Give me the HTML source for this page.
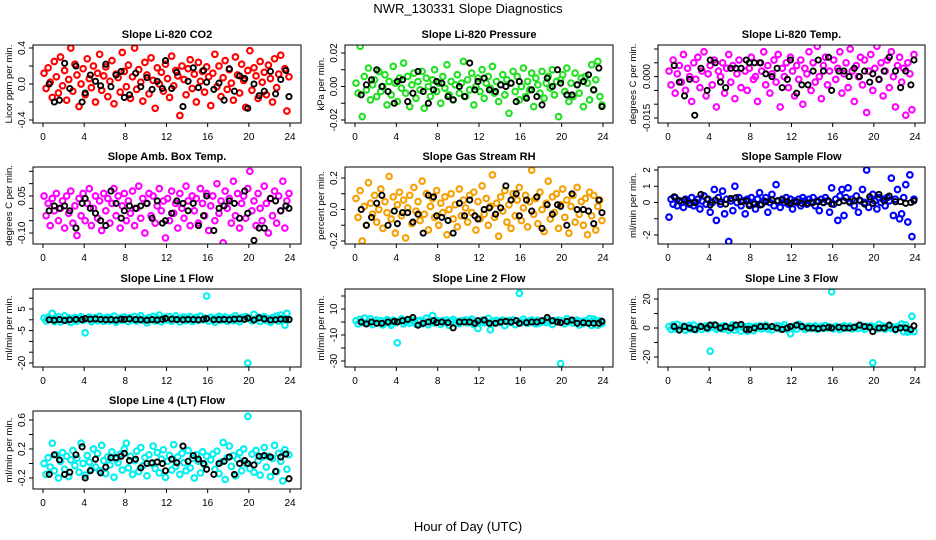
<!DOCTYPE html>
<html><head><meta charset="utf-8"><title>NWR_130331 Slope Diagnostics</title>
<style>
html,body{margin:0;padding:0;background:#fff;}
svg{display:block;font-family:"Liberation Sans",sans-serif;}
</style></head>
<body>
<svg id="chart" width="936" height="540" viewBox="0 0 936 540" xmlns="http://www.w3.org/2000/svg">
<text x="468" y="13" text-anchor="middle" font-size="13">NWR_130331  Slope Diagnostics</text>
<text x="468" y="531" text-anchor="middle" font-size="13">Hour of Day (UTC)</text>
</svg>
<script>
const hours = [0.1,0.3,0.5,0.7,0.9,1.1,1.3,1.5,1.7,1.9,2.1,2.3,2.5,2.7,2.9,3.1,3.3,3.5,3.7,3.9,4.1,4.3,4.5,4.7,4.9,5.1,5.3,5.5,5.7,5.9,6.1,6.3,6.5,6.7,6.9,7.1,7.3,7.5,7.7,7.9,8.1,8.3,8.5,8.7,8.9,9.1,9.3,9.5,9.7,9.9,10.1,10.3,10.5,10.7,10.9,11.1,11.3,11.5,11.7,11.9,12.1,12.3,12.5,12.7,12.9,13.1,13.3,13.5,13.7,13.9,14.1,14.3,14.5,14.7,14.9,15.1,15.3,15.5,15.7,15.9,16.1,16.3,16.5,16.7,16.9,17.1,17.3,17.5,17.7,17.9,18.1,18.3,18.5,18.7,18.9,19.1,19.3,19.5,19.7,19.9,20.1,20.3,20.5,20.7,20.9,21.1,21.3,21.5,21.7,21.9,22.1,22.3,22.5,22.7,22.9,23.1,23.3,23.5,23.7,23.9];
const blackHours = [0.6,1.1,1.6,2.1,2.6,3.2,3.8,4.1,4.6,5.1,5.6,6.1,6.6,7.1,7.6,7.9,8.4,9.0,9.5,10.1,10.6,11.1,11.6,11.9,12.5,13.0,13.6,14.1,14.6,15.1,15.6,15.9,16.6,17.1,17.6,18.1,18.6,19.1,19.6,19.9,20.5,21.0,21.5,22.1,22.6,23.1,23.6,23.9];
const xTicks = [0,4,8,12,16,20,24];

const co2 = [0.12,-0.05,0.18,0.02,-0.15,0.25,0.08,-0.1,0.3,-0.02,0.15,-0.18,0.05,0.4,-0.08,0.22,0.1,-0.25,0.0,0.17,-0.12,0.28,0.06,-0.04,0.2,-0.2,0.12,0.33,-0.07,0.09,0.19,-0.14,0.03,0.26,-0.22,0.11,0.07,-0.09,0.35,0.14,-0.03,0.21,-0.16,0.08,0.4,-0.06,0.16,0.02,-0.19,0.24,0.1,-0.11,0.29,0.04,-0.27,0.18,0.0,0.13,-0.08,0.22,0.06,-0.15,0.31,-0.02,0.15,0.09,-0.35,0.2,0.05,-0.12,0.17,0.27,-0.05,0.11,-0.2,0.24,0.03,0.14,-0.09,0.19,0.08,-0.24,0.12,0.33,-0.03,0.2,-0.14,0.07,0.26,-0.06,0.16,0.01,-0.18,0.3,0.1,-0.1,0.22,0.04,-0.26,0.15,0.37,-0.07,0.18,0.09,-0.16,0.25,0.02,0.13,-0.12,0.21,0.06,-0.2,0.28,-0.04,0.11,0.32,-0.47,0.17,-0.3,0.08];
const co2Black = [0.0,-0.2,-0.18,0.23,-0.05,0.2,-0.2,-0.1,0.1,0.03,-0.02,0.22,-0.03,0.1,0.14,-0.15,-0.12,0.12,-0.03,0.07,-0.06,0.03,-0.05,0.26,-0.05,0.13,-0.25,0.03,0.18,-0.04,0.15,0.02,-0.06,0.01,-0.18,0.17,-0.08,0.09,0.06,-0.27,0.0,-0.13,-0.08,0.14,-0.11,0.05,0.15,-0.14];
const pres = [0.002,-0.004,0.024,-0.018,0.006,-0.002,0.011,-0.008,0.001,0.004,-0.006,0.009,-0.003,0.0,0.007,-0.011,0.003,-0.005,0.012,0.002,-0.009,0.005,-0.001,0.014,-0.004,0.006,-0.012,0.001,0.008,-0.007,0.003,-0.002,0.009,-0.013,0.005,0.0,-0.006,0.004,0.01,-0.003,0.002,-0.01,0.006,-0.001,0.013,-0.005,0.003,-0.008,0.001,0.007,-0.004,0.002,0.015,-0.006,0.004,-0.002,0.008,-0.011,0.0,0.005,-0.003,0.01,-0.007,0.002,0.006,-0.001,0.012,-0.004,0.003,-0.009,0.001,0.007,-0.005,0.004,-0.016,0.002,0.009,-0.003,0.006,-0.008,0.0,0.011,-0.006,0.003,-0.002,0.008,-0.012,0.005,0.001,-0.004,0.009,-0.007,0.002,0.006,-0.001,0.01,-0.005,0.003,-0.018,0.004,0.007,-0.003,0.011,-0.009,0.002,-0.006,0.008,0.001,-0.004,0.005,-0.012,0.006,0.002,-0.008,0.013,-0.002,0.004,0.015,-0.006,-0.011];
const presBlack = [-0.005,0.001,0.004,0.01,0.0,-0.003,-0.01,0.003,0.004,-0.009,-0.004,0.009,-0.003,-0.01,-0.002,0.003,0.002,-0.006,-0.008,0.0,-0.006,0.014,-0.002,0.003,0.005,-0.002,-0.003,0.001,0.0,0.002,-0.009,0.003,-0.007,-0.002,-0.006,-0.011,0.005,0.0,0.01,0.002,-0.005,-0.005,0.001,0.003,0.007,-0.002,0.011,-0.012];
const temp = [0.002,-0.003,0.006,-0.006,0.001,0.004,-0.002,0.008,-0.005,0.003,0.0,-0.009,0.005,-0.001,0.007,-0.004,0.002,0.009,-0.007,0.001,0.004,-0.003,0.006,-0.011,0.002,0.0,0.005,-0.006,0.003,0.008,-0.002,0.004,-0.008,0.001,0.006,-0.004,0.013,0.002,-0.005,0.003,0.007,-0.001,0.0,-0.009,0.005,0.002,0.009,-0.003,0.004,-0.006,0.001,0.006,-0.002,0.008,-0.011,0.003,0.0,0.005,-0.004,0.007,0.002,-0.007,0.004,-0.001,0.006,-0.01,0.003,0.001,0.009,-0.005,0.005,-0.002,0.011,0.0,-0.008,0.004,0.007,-0.003,0.002,-0.018,0.006,-0.001,0.003,0.009,-0.006,0.001,0.005,-0.004,0.01,0.002,-0.009,0.004,0.0,0.007,-0.003,0.006,-0.013,0.002,0.008,-0.005,0.003,0.011,-0.001,0.005,-0.007,0.002,0.006,-0.004,0.009,0.0,-0.011,0.004,0.007,-0.002,0.003,-0.014,0.005,0.001,-0.012,0.008];
const tempBlack = [0.004,-0.002,-0.007,-0.001,-0.014,0.003,-0.005,0.006,0.005,-0.002,-0.004,0.003,0.003,0.003,0.006,0.005,0.005,0.005,0.001,0.0,0.003,-0.004,-0.001,0.006,-0.006,-0.003,-0.003,0.002,0.006,0.002,0.007,-0.005,0.002,0.002,0.0,0.003,0.0,0.002,-0.002,0.001,-0.001,0.002,0.007,0.002,-0.004,0.002,-0.003,0.006];
const amb = [0.05,-0.03,0.02,-0.07,0.04,-0.01,0.06,-0.05,0.0,0.03,-0.08,0.05,-0.02,0.07,-0.06,0.01,-0.11,0.04,-0.03,0.06,-0.05,0.02,0.08,-0.07,0.0,0.05,-0.04,0.03,-0.09,0.06,-0.01,0.04,-0.06,0.02,0.08,-0.03,0.05,-0.08,0.01,0.06,-0.05,0.03,-0.02,0.07,-0.07,0.0,0.09,-0.04,0.04,-0.1,0.02,0.06,-0.03,0.05,-0.06,0.01,0.08,-0.01,0.03,-0.12,0.04,-0.05,0.07,-0.02,0.02,-0.08,0.06,0.0,-0.04,0.09,0.03,-0.07,0.05,-0.01,0.04,-0.06,0.08,0.02,-0.03,0.06,-0.09,0.01,0.05,-0.05,0.1,-0.02,0.03,-0.14,0.07,0.0,0.04,-0.06,0.11,-0.03,0.06,-0.08,0.02,0.05,-0.04,0.08,0.15,-0.01,0.03,-0.07,0.06,0.0,-0.05,0.09,0.02,-0.1,0.04,-0.03,0.07,-0.06,0.05,-0.01,0.11,-0.08,0.03,0.06];
const ambBlack = [-0.01,0.01,0.0,0.01,-0.01,-0.08,0.02,0.04,0.0,-0.02,-0.05,-0.07,0.07,0.02,-0.04,-0.01,0.01,0.0,0.01,0.02,-0.04,0.03,-0.06,-0.05,-0.02,0.03,0.02,-0.01,0.02,-0.07,-0.03,0.05,-0.09,0.0,0.01,0.03,0.02,-0.04,0.07,-0.02,-0.13,-0.08,-0.08,0.04,0.03,-0.01,0.01,0.0];
const rh = [0.07,-0.05,0.12,-0.2,0.02,-0.1,0.17,0.04,-0.03,0.09,-0.08,0.0,0.13,-0.12,0.05,-0.02,0.21,-0.06,0.08,-0.15,0.03,0.11,-0.04,0.06,-0.18,0.01,0.09,-0.09,0.14,-0.01,0.05,-0.07,0.18,-0.03,0.1,-0.13,0.02,0.07,-0.05,0.12,-0.1,0.04,-0.02,0.08,-0.16,0.0,0.1,-0.06,0.03,-0.11,0.13,-0.04,0.06,0.01,-0.08,0.09,-0.02,0.11,-0.13,0.05,-0.06,0.15,-0.03,0.07,-0.1,0.02,0.22,-0.05,0.04,-0.17,0.08,-0.01,0.12,-0.08,0.03,-0.12,0.1,-0.04,0.06,0.14,-0.07,0.01,0.09,-0.11,0.05,0.25,-0.03,0.07,-0.09,0.11,0.0,-0.14,0.04,0.18,-0.06,0.08,-0.02,0.1,-0.12,0.03,0.13,-0.05,0.06,-0.15,0.02,0.09,-0.08,0.14,-0.03,0.05,-0.1,0.07,-0.16,0.11,-0.04,0.09,-0.13,0.02,0.06,-0.07];
const rhBlack = [0.0,-0.1,-0.05,0.04,0.09,-0.1,-0.01,-0.09,-0.02,-0.02,-0.08,-0.03,-0.15,0.09,0.08,-0.04,-0.05,-0.07,-0.15,0.04,-0.04,0.06,-0.04,-0.06,0.0,0.01,-0.03,0.01,0.15,0.06,0.1,-0.04,0.06,-0.01,0.08,-0.12,0.03,-0.03,0.03,0.02,-0.1,0.1,0.0,0.0,-0.01,-0.09,0.06,-0.02];
const sflow = [-0.9,0.2,-0.1,0.3,-0.2,0.1,0.0,-0.3,0.2,0.1,-0.1,0.3,-0.2,0.0,0.2,-0.4,0.1,0.4,-0.1,0.2,-0.6,0.0,0.8,-1.1,0.3,-0.1,0.7,-0.7,0.2,-2.4,0.1,-0.5,1.0,0.0,0.3,-0.2,0.1,-0.7,0.2,-0.1,0.3,0.0,-0.4,0.2,0.6,-0.1,0.1,0.3,-0.6,0.0,0.5,-0.2,1.1,0.1,-0.3,0.2,0.0,0.3,-0.1,0.2,-0.4,0.1,0.0,0.2,-0.2,0.3,0.1,-0.1,0.2,0.0,0.3,-0.2,0.1,-0.5,0.2,0.0,0.3,0.1,-0.6,0.9,-0.1,0.2,-1.1,0.4,0.8,-0.8,0.3,0.9,0.0,0.2,-0.2,0.4,-0.6,0.1,0.8,0.0,2.0,-0.3,0.2,0.5,0.1,-0.4,0.3,0.0,0.2,-0.2,0.3,0.1,1.5,-0.8,0.2,0.8,-1.0,-0.7,0.3,1.1,-1.2,1.7,-2.1,0.2];
const sflowBlack = [0.35,0.1,0.15,-0.05,0.0,0.5,0.2,-0.15,0.15,0.05,-0.1,0.25,0.3,0.05,0.1,-0.2,-0.1,-0.15,0.05,0.15,0.1,0.15,0.05,-0.05,0.05,-0.05,-0.05,0.0,0.05,0.0,0.1,-0.1,0.0,0.1,0.05,0.1,0.15,-0.1,0.35,-0.05,0.5,0.1,0.4,0.05,0.05,-0.05,0.0,0.1];
const line1 = [0.8,-0.5,1.2,0.3,3.0,-0.8,0.5,1.5,-1.0,0.2,1.8,-0.3,0.9,-1.2,0.4,1.1,-0.6,0.7,1.4,-0.2,-6.0,0.6,1.3,-0.9,0.1,1.0,-0.4,1.6,0.3,-0.7,0.9,1.2,-0.5,0.4,1.7,-1.1,0.2,0.8,-0.3,1.3,0.5,-0.8,1.1,0.0,1.5,-0.6,0.7,1.9,-0.2,0.4,-1.4,1.0,0.3,1.6,-0.5,0.8,2.2,-0.9,0.6,1.2,-0.1,1.4,-0.7,0.5,1.8,0.2,-1.0,0.9,1.3,-0.4,0.6,1.5,-0.8,0.3,1.1,-0.3,1.7,0.0,0.8,11.0,-0.6,1.2,0.4,-1.1,0.9,1.6,-0.2,0.5,1.3,-0.7,0.2,1.0,-0.4,1.8,0.6,-0.9,1.1,0.3,1.5,-20.0,0.7,-0.5,2.5,0.1,1.2,-0.8,0.9,1.4,-0.3,0.5,-1.2,1.0,0.4,1.7,-0.6,2.2,0.8,-2.5,3.0,0.2];
const line1Black = [0.0,-0.2,0.1,-0.3,0.0,0.2,0.1,0.5,0.3,0.4,0.2,0.0,0.1,-0.1,0.3,0.2,0.4,0.1,0.0,-0.2,0.1,-0.1,0.2,0.6,0.3,0.1,0.0,0.2,0.1,0.0,0.3,0.5,0.0,0.1,0.2,0.0,0.3,0.4,0.2,0.8,-0.1,0.9,0.4,-0.1,0.0,0.3,0.2,0.1];
const line2 = [1.0,-1.5,2.0,-0.5,3.0,-1.0,0.5,2.5,-2.0,0.2,1.5,-0.8,1.0,-2.2,0.4,1.8,-1.0,-2.5,1.4,-0.5,-16.0,0.6,2.3,-1.5,0.1,1.0,-0.8,1.6,0.3,-1.7,0.9,1.2,-1.5,0.4,3.0,-2.1,0.2,5.0,-0.8,1.3,0.5,-1.8,1.1,0.0,1.5,-2.6,0.7,1.9,-0.7,0.4,-1.4,1.0,0.3,1.6,-0.5,0.8,2.2,-1.9,0.6,-5.0,-0.1,1.4,-0.7,0.5,2.8,-6.0,-1.0,0.9,1.3,-0.4,0.6,1.5,-2.8,0.3,1.1,-0.3,1.7,-2.0,0.8,22.0,-0.6,2.2,0.4,-1.1,0.9,1.6,-0.2,-1.5,1.3,-0.7,0.2,1.0,-0.4,1.8,0.6,-1.9,1.1,0.3,1.5,-32.0,0.7,-1.5,2.5,0.1,1.2,-0.8,0.9,1.4,-2.3,0.5,-1.2,1.0,0.4,2.7,-2.6,2.2,0.8,-2.5,1.0,-1.2];
const line2Black = [0,-1.5,0,-1,-1,0,0.5,0,1,2,3.5,-2.5,-1,0,1,-0.5,0,-0.5,-4.5,0,0,0,-1,1,1.5,-1,-1,0,0.5,0,1,-1,-0.5,0,0,1,3.5,1,0,-0.5,0.5,1.5,-1,-0.5,-1,-1,-1,0.5];
const line3 = [1.0,-1.0,2.0,-0.5,2.5,-1.0,0.5,1.5,-1.5,0.2,1.8,-0.8,2.0,-1.2,0.4,1.1,-1.0,0.7,1.4,-0.5,-16.0,0.6,2.3,-0.9,0.1,1.0,-0.8,1.6,0.3,-1.7,0.9,2.2,-1.5,0.4,1.7,-2.1,0.2,0.8,-2.3,1.3,0.5,-1.8,1.1,0.0,1.5,-0.6,0.7,1.9,-0.7,0.4,-1.4,1.0,0.3,1.6,-0.5,0.8,2.2,-0.9,0.6,-4.0,-0.1,1.4,-0.7,2.5,1.8,0.2,-1.0,0.9,1.3,-0.4,0.6,1.5,-0.8,0.3,1.1,-0.3,1.7,0.0,0.8,25.0,-0.6,1.2,0.4,-1.1,0.9,1.6,-0.2,0.5,1.3,-0.7,0.2,1.0,-0.4,1.8,0.6,-0.9,1.1,0.3,1.5,-24.0,0.7,-0.5,2.5,0.1,1.2,-0.8,0.9,1.4,-0.3,0.5,-1.2,1.0,0.4,2.7,-2.6,2.2,-2.8,-2.5,8.0,-2.5];
const line3Black = [1,-1.5,1,0,-1,1,0,2,2,0,1,0,2,2.5,-1,-1,0,1,1,1,0,-1,0,1,2,1,0,0,-0.5,0,0.5,0,0.5,0,0,0.5,2,1,0.5,-2.5,0,0,2,-1,0,0,-1,1.5];
const line4 = [0.0,-0.15,0.08,-0.05,0.28,-0.1,0.12,-0.2,0.03,0.15,-0.08,0.1,-0.18,0.05,0.18,-0.03,0.07,-0.12,0.28,0.0,-0.16,0.11,0.02,-0.08,0.2,-0.05,0.14,-0.1,0.25,0.04,-0.14,0.09,-0.02,0.16,-0.19,0.06,0.01,0.13,-0.09,0.2,0.28,-0.06,0.1,-0.15,0.04,0.17,-0.11,0.22,-0.03,0.08,-0.17,0.12,0.0,0.24,-0.07,0.15,-0.13,0.06,0.19,-0.19,0.03,0.11,-0.09,0.26,-0.04,0.09,-0.15,0.14,0.01,-0.1,0.18,-0.06,0.07,-0.2,0.12,0.03,-0.13,0.16,-0.02,0.1,-0.45,0.05,0.13,-0.08,0.17,-0.14,0.02,0.29,-0.22,0.08,0.24,-0.04,0.11,-0.17,0.06,0.15,-0.1,0.2,0.0,0.65,-0.07,0.13,-0.12,0.18,0.04,-0.16,0.09,0.22,-0.05,0.1,-0.18,0.07,0.25,-0.11,0.14,0.03,-0.24,0.19,-0.08,0.12];
const line4Black = [-0.15,0.12,0.05,-0.15,-0.12,0.12,0.23,-0.2,-0.1,0.06,-0.13,-0.05,0.08,0.08,0.1,0.14,0.04,0.06,-0.06,0.0,0.01,0.02,0.0,-0.1,0.06,0.01,0.24,0.03,0.11,0.06,0.0,-0.08,-0.15,0.0,0.03,0.09,-0.15,0.0,0.04,0.0,-0.02,0.1,0.11,0.09,-0.11,0.09,0.13,-0.21];

const co2Ticks=[-0.4,-0.2,0,0.2,0.4], co2Labels=["-0.4","0.0","0.4"];
const presTicks=[-0.02,-0.01,0,0.01,0.02], presLabels=["-0.02","0.00","0.02"];
const tempTicks=[-0.015,-0.01,-0.005,0,0.005,0.01], tempLabels=["-0.015","0.000"];
const ambTicks=[-0.1,-0.05,0,0.05,0.1,0.15], ambLabels=["-0.10","0.05"];
const rhTicks=[-0.2,-0.1,0,0.1,0.2], rhLabels=["-0.2","0.0","0.2"];
const sflowTicks=[-2,-1,0,1,2], sflowLabels=["-2","0","1","2"];
const line1Ticks=[-20,-15,-10,-5,0,5,10], line1Labels=["-20","-5","5"];
const line2Ticks=[-30,-20,-10,0,10,20], line2Labels=["-30","-10","10"];
const line3Ticks=[-20,-10,0,10,20], line3Labels=["-20","0","20"];
const line4Ticks=[-0.2,0,0.2,0.4,0.6], line4Labels=["-0.2","0.2","0.6"];

const NS="http://www.w3.org/2000/svg";
const svg=document.getElementById('chart');
function mk(tag,attrs,parent){const e=document.createElementNS(NS,tag);for(const k in attrs)e.setAttribute(k,attrs[k]);(parent||svg).appendChild(e);return e;}

const cols=[{l:33,r:301,x0:43,x24:290,lab:21,ttl:8},{l:345,r:613,x0:355,x24:603,lab:333,ttl:320},{l:658,r:925,x0:668,x24:915,lab:646,ttl:632}];
const rows=[{t:45,b:123},{t:167,b:244},{t:289,b:367},{t:411,b:489}];

const panels=[
 {name:'co2',title:'Slope Li-820 CO2',ylab:'Licor ppm per min.',c:0,r:0,color:'#ff0000',vals:co2,blk:co2Black,ticks:co2Ticks,labels:co2Labels,v1:0.4,p1:48,v2:-0.4,p2:120},
 {name:'pressure',title:'Slope Li-820 Pressure',ylab:'kPa per min.',c:1,r:0,color:'#22e022',vals:pres,blk:presBlack,ticks:presTicks,labels:presLabels,v1:0.02,p1:53,v2:-0.02,p2:120},
 {name:'temp',title:'Slope Li-820 Temp.',ylab:'degrees C per min.',c:2,r:0,color:'#ff00ff',vals:temp,blk:tempBlack,ticks:tempTicks,labels:tempLabels,v1:0.01,p1:49,v2:-0.015,p2:118},
 {name:'amb-box-temp',title:'Slope Amb. Box Temp.',ylab:'degrees C per min.',c:0,r:1,color:'#ff00ff',vals:amb,blk:ambBlack,ticks:ambTicks,labels:ambLabels,v1:0.05,p1:196,v2:-0.1,p2:233},
 {name:'gas-rh',title:'Slope Gas Stream RH',ylab:'percent per min.',c:1,r:1,color:'#f5a000',vals:rh,blk:rhBlack,ticks:rhTicks,labels:rhLabels,v1:0.2,p1:178,v2:-0.2,p2:241},
 {name:'sample-flow',title:'Slope Sample Flow',ylab:'ml/min per min.',c:2,r:1,color:'#0000ff',vals:sflow,blk:sflowBlack,ticks:sflowTicks,labels:sflowLabels,v1:2,p1:170,v2:-2,p2:235},
 {name:'line1-flow',title:'Slope Line 1 Flow',ylab:'ml/min per min.',c:0,r:2,color:'#00f0f0',vals:line1,blk:line1Black,ticks:line1Ticks,labels:line1Labels,v1:5,p1:309,v2:-20,p2:363},
 {name:'line2-flow',title:'Slope Line 2 Flow',ylab:'ml/min per min.',c:1,r:2,color:'#00f0f0',vals:line2,blk:line2Black,ticks:line2Ticks,labels:line2Labels,v1:10,p1:309,v2:-30,p2:361},
 {name:'line3-flow',title:'Slope Line 3 Flow',ylab:'ml/min per min.',c:2,r:2,color:'#00f0f0',vals:line3,blk:line3Black,ticks:line3Ticks,labels:line3Labels,v1:20,p1:299,v2:-20,p2:357},
 {name:'line4-flow',title:'Slope Line 4 (LT) Flow',ylab:'ml/min per min.',c:0,r:3,color:'#00f0f0',vals:line4,blk:line4Black,ticks:line4Ticks,labels:line4Labels,v1:0.6,p1:420,v2:-0.2,p2:478}
];

panels.forEach(p=>{
 const C=cols[p.c],R=rows[p.r];
 const xs=h=>C.x0+(C.x24-C.x0)*h/24;
 const ys=v=>p.p1+(v-p.v1)*(p.p2-p.p1)/(p.v2-p.v1);
 const g=mk('g',{});
 
 
 const clip=mk('clipPath',{id:'clip-'+p.name},g);
 mk('rect',{x:C.l,y:R.t,width:C.r-C.l,height:R.b-R.t},clip);
 const t=mk('text',{x:(C.l+C.r)/2,y:R.t-7,'text-anchor':'middle','font-size':11,'font-weight':'bold'},g);
 t.textContent=p.title;
 
 
 const yl=mk('text',{x:0,y:0,'text-anchor':'middle','font-size':9.5,transform:`translate(${C.ttl+4},${(R.t+R.b)/2}) rotate(-90)`},g);
 yl.textContent=p.ylab;
 
 
 const pts=mk('g',{'clip-path':`url(#clip-${p.name})`},g);
 
 
 const n=Math.min(hours.length,p.vals.length);
 for(let i=0;i<n;i++){
  const c=mk('circle',{cx:xs(hours[i]),cy:ys(p.vals[i]),r:2.8,fill:'none',stroke:p.color,'stroke-width':2.1},pts);
  
  
 }
 const bg=mk('g',{'clip-path':`url(#clip-${p.name})`},g);
 
 
 const m=Math.min(blackHours.length,p.blk.length);
 for(let i=0;i<m;i++){
  const c=mk('circle',{cx:xs(blackHours[i]),cy:ys(p.blk[i]),r:2.6,fill:'none',stroke:'#000','stroke-width':1.9},bg);
  
  
 }
 const box=mk('rect',{x:C.l,y:R.t,width:C.r-C.l,height:R.b-R.t,fill:'none',stroke:'#000','stroke-width':1},g);
 
 
 xTicks.forEach(h=>{
  mk('line',{x1:xs(h),x2:xs(h),y1:R.b,y2:R.b+4,stroke:'#000'},g);
  const tl=mk('text',{x:xs(h),y:R.b+17,'text-anchor':'middle','font-size':10},g);
  tl.textContent=String(h);
  
  
 });
 p.ticks.forEach(v=>{
  mk('line',{x1:C.l-4,x2:C.l,y1:ys(v),y2:ys(v),stroke:'#000'},g);
 });
 p.labels.forEach(s=>{
  const v=parseFloat(s);
  const tl=mk('text',{x:0,y:0,'text-anchor':'middle','font-size':10,transform:`translate(${C.lab+4},${ys(v)}) rotate(-90)`},g);
  tl.textContent=s;
  
  
 });
});
</script>
</body></html>
